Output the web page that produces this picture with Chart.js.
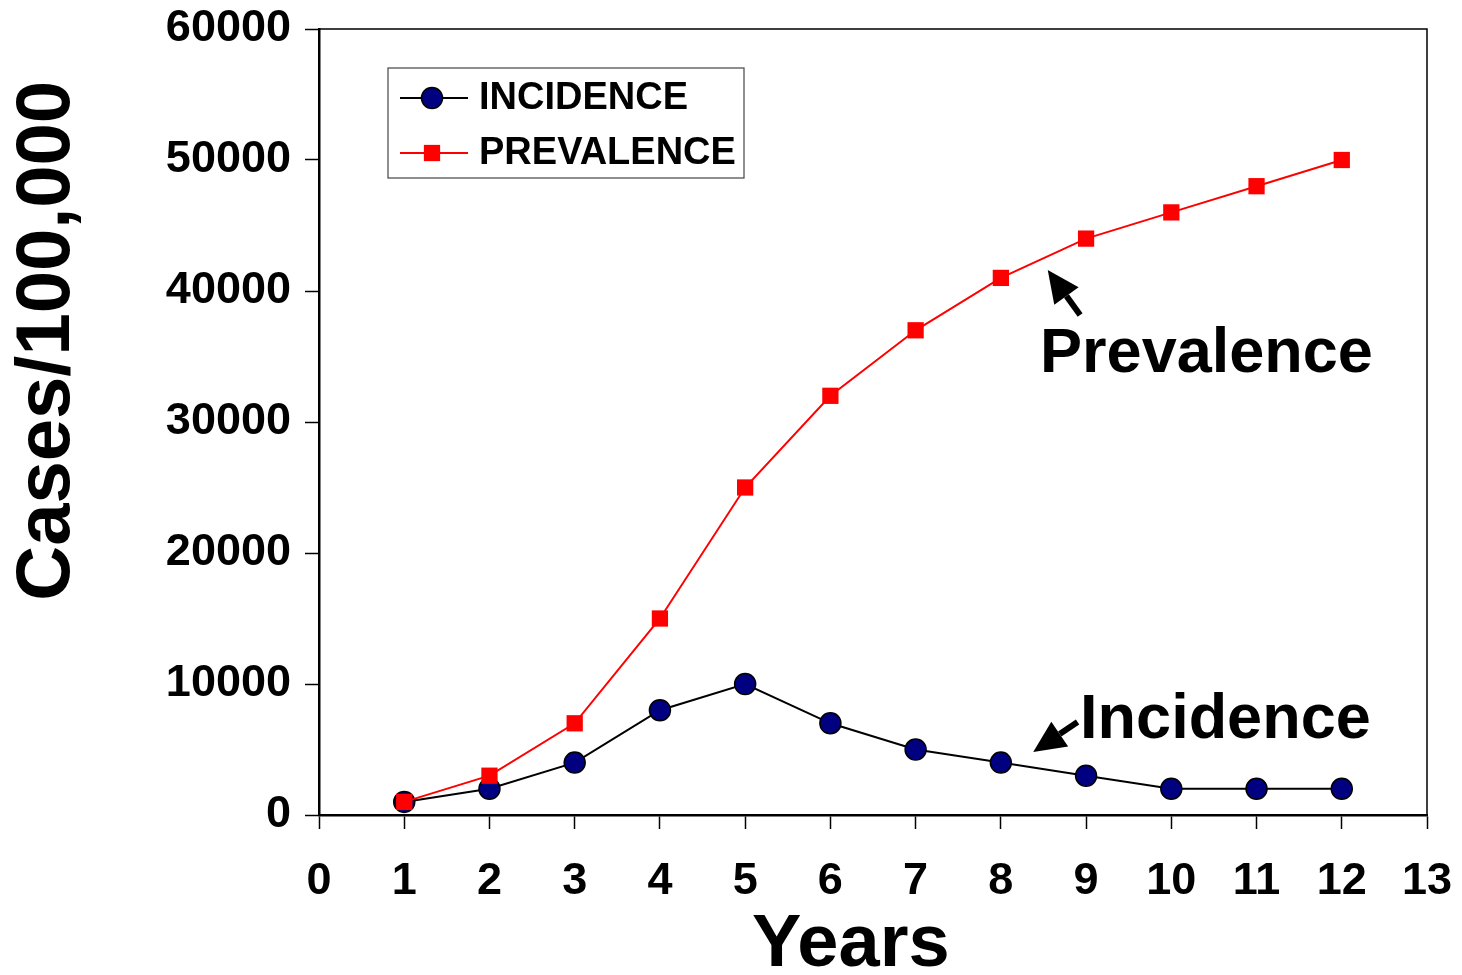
<!DOCTYPE html>
<html>
<head>
<meta charset="utf-8">
<script src="https://cdn.jsdelivr.net/npm/chart.js@4/dist/chart.umd.min.js"></script>
<style>
  body { margin: 0; background: #fff; }
  #wrap { width: 1462px; height: 975px; }
</style>
</head>
<body>
<div id="wrap"><canvas id="casesChart"></canvas></div>
<script>
// Data
const years = [1, 2, 3, 4, 5, 6, 7, 8, 9, 10, 11, 12];
const incidence = [1000, 2000, 4000, 8000, 10000, 7000, 5000, 4000, 3000, 2000, 2000, 2000];
const prevalence = [1000, 3000, 7000, 15000, 25000, 32000, 37000, 41000, 44000, 46000, 48000, 50000];
const seriesLabels = ['INCIDENCE', 'PREVALENCE'];
const xTitle = 'Years';
const yTitle = 'Cases/100,000';

const FONT = '"Liberation Sans", Arial, sans-serif';

function toPoints(values) {
    return years.map((y, i) => ({ x: y, y: values[i] }));
}

// Draws frame, axis titles, callout labels with arrows and the boxed legend
const overlay = {
    id: 'overlay',
    beforeDatasetsDraw(chart) {
        const { ctx, chartArea: a } = chart;
        ctx.save();
        ctx.strokeStyle = '#000';
        ctx.lineWidth = 1.5;
        ctx.beginPath();
        ctx.moveTo(a.left, a.top);
        ctx.lineTo(a.right, a.top);
        ctx.lineTo(a.right, a.bottom);
        ctx.stroke();
        ctx.restore();
    },
    afterDraw(chart) {
        const { ctx, chartArea: a, scales } = chart;
        const sx = scales.x, sy = scales.y;
        ctx.save();
        ctx.fillStyle = '#000';

        // axis titles
        ctx.font = 'bold 76px ' + FONT;
        ctx.textAlign = 'center';
        ctx.textBaseline = 'middle';
        ctx.save();
        ctx.translate(48, sy.getPixelForValue(36200));
        ctx.rotate(-Math.PI / 2);
        ctx.fillText(yTitle, 0, 0);
        ctx.restore();
        ctx.font = 'bold 74px ' + FONT;
        ctx.textBaseline = 'alphabetic';
        ctx.fillText(xTitle, sx.getPixelForValue(6.24), 966);

        // callouts
        ctx.font = 'bold 63px ' + FONT;
        ctx.textAlign = 'left';
        ctx.fillText('Prevalence', sx.getPixelForValue(8.46), sy.getPixelForValue(33800));
        ctx.fillText('Incidence', sx.getPixelForValue(8.93), sy.getPixelForValue(5900));
        drawArrow(ctx, sx.getPixelForValue(8.93), sy.getPixelForValue(38170),
                       sx.getPixelForValue(8.55), sy.getPixelForValue(41600));
        drawArrow(ctx, sx.getPixelForValue(8.9), sy.getPixelForValue(7100),
                       sx.getPixelForValue(8.38), sy.getPixelForValue(4810));

        // legend box
        const lx = a.left + 69, ly = a.top + 39, lw = 356, lh = 110;
        ctx.fillStyle = '#fff';
        ctx.fillRect(lx, ly, lw, lh);
        ctx.strokeStyle = '#444';
        ctx.lineWidth = 1.2;
        ctx.strokeRect(lx, ly, lw, lh);
        chart.data.datasets.forEach((ds, i) => {
            const cy = ly + 30 + i * 55;
            ctx.strokeStyle = ds.borderColor;
            ctx.lineWidth = ds.borderWidth;
            ctx.beginPath();
            ctx.moveTo(lx + 12, cy);
            ctx.lineTo(lx + 80, cy);
            ctx.stroke();
            ctx.fillStyle = ds.pointBackgroundColor;
            ctx.strokeStyle = ds.pointBorderColor;
            ctx.lineWidth = ds.pointBorderWidth;
            ctx.beginPath();
            if (ds.pointStyle === 'circle') {
                ctx.arc(lx + 44, cy, ds.pointRadius, 0, Math.PI * 2);
            } else {
                const s = Math.SQRT1_2 * ds.pointRadius;
                ctx.rect(lx + 44 - s, cy - s, 2 * s, 2 * s);
            }
            ctx.fill();
            if (ds.pointBorderWidth) ctx.stroke();
            ctx.fillStyle = '#000';
            ctx.font = 'bold 38px ' + FONT;
            ctx.textBaseline = 'middle';
            ctx.fillText(ds.label, lx + 91, cy + 1);
        });
        ctx.restore();
    }
};

function drawArrow(ctx, x1, y1, x2, y2) {
    const ang = Math.atan2(y2 - y1, x2 - x1);
    const head = 32, half = 15;
    const bx = x2 - head * Math.cos(ang), by = y2 - head * Math.sin(ang);
    ctx.save();
    ctx.strokeStyle = '#000';
    ctx.fillStyle = '#000';
    ctx.lineWidth = 6;
    ctx.beginPath();
    ctx.moveTo(x1, y1);
    ctx.lineTo(bx, by);
    ctx.stroke();
    ctx.beginPath();
    ctx.moveTo(x2, y2);
    ctx.lineTo(bx + half * Math.sin(ang), by - half * Math.cos(ang));
    ctx.lineTo(bx - half * Math.sin(ang), by + half * Math.cos(ang));
    ctx.closePath();
    ctx.fill();
    ctx.restore();
}

const tickFont = { family: FONT, size: 45, weight: 'bold' };

new Chart(document.getElementById('casesChart'), {
    type: 'line',
    data: {
        datasets: [{
            label: seriesLabels[0],
            data: toPoints(incidence),
            borderColor: '#000000',
            borderWidth: 2,
            pointStyle: 'circle',
            pointRadius: 10.5,
            pointBackgroundColor: '#000080',
            pointBorderColor: '#000000',
            pointBorderWidth: 1.5,
            order: 1
        }, {
            label: seriesLabels[1],
            data: toPoints(prevalence),
            borderColor: '#ff0000',
            borderWidth: 2,
            pointStyle: 'rect',
            pointRadius: 11.5,
            pointBackgroundColor: '#ff0000',
            pointBorderColor: '#ff0000',
            pointBorderWidth: 0,
            order: 0
        }]
    },
    options: {
        responsive: true,
        maintainAspectRatio: false,
        animation: false,
        layout: { padding: { top: 29, right: 35, left: 0, bottom: 0 } },
        plugins: {
            legend: { display: false },
            tooltip: { enabled: false }
        },
        scales: {
            x: {
                type: 'linear',
                min: 0,
                max: 13,
                afterFit: (scale) => {
                    scale.height = 160;
                    scale.paddingLeft = 0;
                    scale.paddingRight = 0;
                },
                ticks: {
                    stepSize: 1,
                    color: '#000',
                    font: tickFont,
                    padding: 26,
                    maxRotation: 0
                },
                grid: {
                    drawOnChartArea: false,
                    tickLength: 14,
                    tickWidth: 1.5,
                    tickColor: '#000'
                },
                border: { display: true, color: '#000', width: 2.5 }
            },
            y: {
                min: 0,
                max: 60000,
                afterFit: (scale) => {
                    scale.width = 319;
                    scale.paddingTop = 0;
                    scale.paddingBottom = 0;
                },
                ticks: {
                    stepSize: 10000,
                    color: '#000',
                    font: tickFont,
                    padding: 14,
                    callback: (v) => String(v)
                },
                grid: {
                    drawOnChartArea: false,
                    tickLength: 14,
                    tickWidth: 1.5,
                    tickColor: '#000'
                },
                border: { display: true, color: '#000', width: 2.5 }
            }
        }
    },
    plugins: [overlay]
});
</script>
</body>
</html>
